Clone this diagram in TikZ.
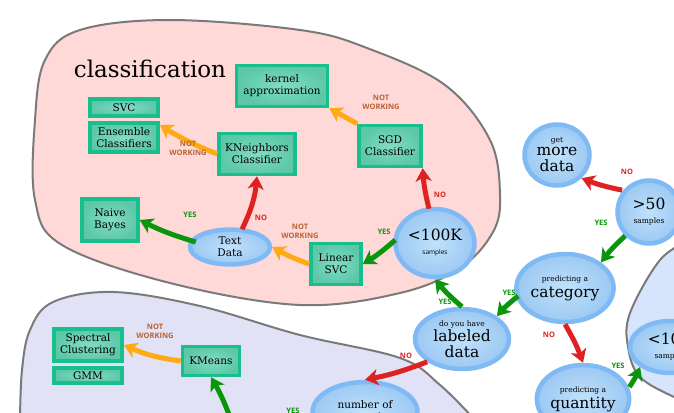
\documentclass[tikz,border=0pt]{standalone}
\usepackage{fontspec}
\setmainfont{DejaVu Serif}
\newfontfamily\labelfont{Open Sans}
\usetikzlibrary{arrows.meta,positioning,shapes.geometric,shadows}
\definecolor{boxedge}{RGB}{24,190,140}
\definecolor{boxlight}{RGB}{130,220,194}
\definecolor{boxdark}{RGB}{92,200,168}
\definecolor{qedge}{RGB}{128,186,244}
\definecolor{qlight}{RGB}{192,226,252}
\definecolor{qdark}{RGB}{156,200,242}
\definecolor{yesgreen}{RGB}{10,150,10}
\definecolor{nored}{RGB}{222,34,34}
\definecolor{failorange}{RGB}{255,170,20}
\definecolor{failtext}{RGB}{184,98,48}
\definecolor{classfill}{RGB}{255,216,216}
\definecolor{clusterfill}{RGB}{226,226,246}
\definecolor{regressfill}{RGB}{214,228,252}
\definecolor{blobline}{RGB}{122,122,122}
\newcommand\smallq{\fontsize{7.5}{8}\selectfont}
\newcommand\bigq{\fontsize{15.5}{18}\selectfont}
\tikzset{
	estimator/.style={
		draw=boxedge,
		line width=3.5pt,
		rectangle,
		inner color=boxlight,
		outer color=boxdark,
		align=center,
		inner sep=1pt,
		font=\fontsize{10.5}{12}\selectfont,
		drop shadow={shadow xshift=1pt,shadow yshift=-1.5pt,opacity=0.2},
	},
	question/.style={
		draw=qedge,
		line width=4.5pt,
		ellipse,
		inner color=qlight,
		outer color=qdark,
		align=center,
		inner sep=0pt,
		font=\bigq,
		drop shadow={shadow xshift=1pt,shadow yshift=-1.5pt,opacity=0.2},
	},
	blob/.style={
		draw=blobline,
		line width=2pt,
		fill=#1,
	},
	yes/.style={
		draw=yesgreen,
		line width=5pt,
		-{Stealth[length=13pt,width=16pt,inset=3.5pt]},
	},
	no/.style={
		yes,
		draw=nored,
	},
	fail/.style={
		yes,
		draw=failorange,
	},
	tag/.style={
		font=\labelfont\bfseries\fontsize{7.5}{9}\selectfont,
		align=center,
		inner sep=0pt,
	},
}
\begin{document}
\begin{tikzpicture}[x=1pt,y=-1pt]
	\useasboundingbox (0,0) rectangle (674,412);
	\clip (0,0) rectangle (674,412);
	% regions
	\fill[blob=classfill] plot[smooth cycle,tension=0.6] coordinates {
		(35,200) (62,245) (170,283) (300,305) (400,293) (460,268) (493,232)
		(500,195) (490,140) (445,85) (367,48) (300,30) (170,20) (80,30) (45,60) (35,120)};
	\fill[blob=clusterfill] plot[smooth,tension=0.6] coordinates {
		(20,420) (22,370) (30,330) (53,302) (113,292) (200,306) (300,335) (400,358) (440,385) (475,420)};
	\fill[blob=regressfill] plot[smooth,tension=0.6] coordinates {
		(690,240) (660,260) (630,313) (628,347) (640,377) (674,397) (690,402)};
	\node[font=\fontsize{23}{25}\selectfont] (title) at (150,69) {classification};
	% estimators
	\node[estimator,minimum width=91pt,minimum height=41pt] (kernel) at (282,86) {kernel\\approximation};
	\node[estimator,minimum width=62pt,minimum height=41pt] (sgd) at (390,146) {SGD\\Classifier};
	\node[estimator,minimum width=76pt,minimum height=41pt] (kneigh) at (257,154) {KNeighbors\\Classifier};
	\node[estimator,minimum width=68pt,minimum height=17pt] (svc) at (124,107.5) {SVC};
	\node[estimator,minimum width=68pt,minimum height=29pt,below=3.5pt of svc] (ensemble) {Ensemble\\Classifiers};
	\node[estimator,minimum width=56pt,minimum height=42pt] (bayes) at (110,220) {Naive\\Bayes};
	\node[estimator,minimum width=50pt,minimum height=41pt] (linsvc) at (336,264) {Linear\\SVC};
	\node[estimator,minimum width=68pt,minimum height=32pt] (spectral) at (88,345) {Spectral\\Clustering};
	\node[estimator,minimum width=68pt,minimum height=15pt,below=3.5pt of spectral] (gmm) {GMM};
	\node[estimator,minimum width=57pt,minimum height=29pt] (kmeans) at (211,361) {KMeans};
	% questions
	\node[question,minimum width=80pt,minimum height=35pt,font=\fontsize{10.5}{12}\selectfont] (text) at (230,247) {Text\\Data};
	\node[question,minimum width=79pt,minimum height=68pt] (small) at (435,243) {<100K\\[-4pt]{\labelfont\fontsize{6.5}{7}\selectfont samples}};
	\node[question,minimum width=65pt,minimum height=61pt] (more) at (557,155) {{\smallq get}\\[-5pt]more\\[-2pt]data};
	\node[question,minimum width=63pt,minimum height=63pt] (fifty) at (649,212) {>50\\[-4pt]{\smallq samples}};
	\node[question,minimum width=78pt,minimum height=68pt] (category) at (565,288) {{\smallq predicting a}\\[-2pt]category};
	\node[question,minimum width=78pt,minimum height=68pt] (quantity) at (583,399) {{\smallq predicting a}\\[-2pt]quantity};
	\node[question,minimum width=94pt,minimum height=60pt] (labeled) at (462,339) {{\smallq do you have}\\[-3pt]labeled\\[-2pt]data};
	\node[question,minimum width=105pt,minimum height=60pt,font=\fontsize{10.5}{12}\selectfont] (number) at (365,412) {number of\\categories};
	\node[question,minimum width=80pt,minimum height=52pt] (tenk) at (670,347) {<10K\\[-4pt]{\smallq samples}};
	\coordinate (below) at (231,420);
	% connectors
	\draw[fail] (kneigh.west) to[bend left=5] (ensemble.east |- 0,125);
	\draw[fail] (sgd.north west) to (kernel.south east);
	\draw[fail] (linsvc.west) to[bend left=5] (text.east);
	\draw[fail] (kmeans.west) to[bend left=8] (spectral.east);
	\draw[no] (text.north) ++(12,2) to[bend right=10] (kneigh.south);
	\draw[yes] (text.west) ++(8,-5) to[bend left=5] (bayes.east);
	\draw[yes] (small.west) ++(2,-3) to[bend left=5] (linsvc.east);
	\draw[no] (small.north) ++(-6,2) to[bend left=5] (sgd.south east);
	\draw[yes] (labeled.north) to[bend left=5] (small.south);
	\draw[yes] (category.west) ++(4,8) to[bend right=5] (labeled.north east);
	\draw[yes] (fifty.south west) to[bend right=5] (category.north east);
	\draw[no] (fifty.north west) ++(-3,2) to[bend left=5] (more.south east);
	\draw[no] (category.south) to[bend left=5] (quantity.north);
	\draw[yes] (quantity.east) ++(-2,-12) to[bend right=5] (tenk.south west);
	\draw[no] (labeled.south west) to[bend left=5] (number.north);
	\draw[yes] (below) to[bend right=5] (kmeans.south);
	% answers
	\node[tag,text=failtext] at (188,148) {NOT\\WORKING};
	\node[tag,text=failtext] at (381,102) {NOT\\WORKING};
	\node[tag,text=failtext] at (300,231) {NOT\\WORKING};
	\node[tag,text=failtext] at (155,331) {NOT\\WORKING};
	\node[tag,text=nored] at (261,218) {NO};
	\node[tag,text=yesgreen] at (190,215) {YES};
	\node[tag,text=yesgreen] at (384,232) {YES};
	\node[tag,text=nored] at (440,195) {NO};
	\node[tag,text=yesgreen] at (445,302) {YES};
	\node[tag,text=yesgreen] at (509,293) {YES};
	\node[tag,text=yesgreen] at (601,223) {YES};
	\node[tag,text=nored] at (627,172) {NO};
	\node[tag,text=nored] at (549,335) {NO};
	\node[tag,text=yesgreen] at (618,366) {YES};
	\node[tag,text=nored] at (406,356) {NO};
	\node[tag,text=yesgreen] at (293,411) {YES};
\end{tikzpicture}
\end{document}
